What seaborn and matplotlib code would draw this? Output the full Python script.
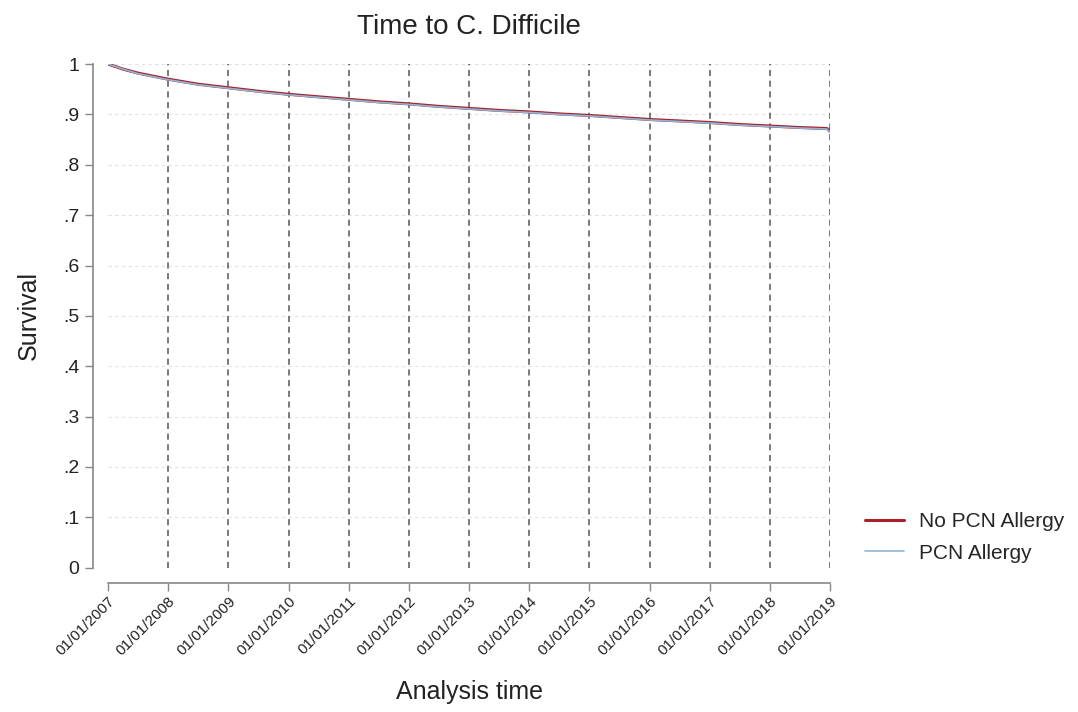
import matplotlib
matplotlib.use('Agg')
import matplotlib.pyplot as plt
import pandas as pd
import numpy as np
import seaborn as sns

sns.set_style('white')
plt.rcParams['font.family'] = ['Liberation Sans', 'DejaVu Sans']

# ---------------------------------------------------------------------------------------
# Data (time in years since 01/01/2007)

years = [2007, 2007.25, 2007.5, 2007.75, 2008, 2008.5, 2009, 2009.5, 2010, 2010.5,
         2011, 2011.5, 2012, 2012.5, 2013, 2013.5, 2014, 2014.5, 2015, 2015.5,
         2016, 2016.5, 2017, 2017.5, 2018, 2018.5, 2018.95, 2019]
surv_no_allergy = [1.0, 0.990, 0.982, 0.976, 0.970, 0.960, 0.953, 0.946, 0.940, 0.935,
                   0.930, 0.925, 0.921, 0.916, 0.912, 0.908, 0.905, 0.901, 0.898, 0.894,
                   0.890, 0.887, 0.884, 0.880, 0.877, 0.874, 0.872, 0.866]
surv_allergy = [1.0, 0.990, 0.981, 0.975, 0.969, 0.959, 0.952, 0.945, 0.939, 0.934,
                0.929, 0.924, 0.920, 0.915, 0.911, 0.907, 0.904, 0.900, 0.897, 0.893,
                0.889, 0.886, 0.883, 0.879, 0.876, 0.873, 0.871, 0.864]

tick_years = list(range(2007, 2020))
tick_labels = ['01/01/%d' % y for y in tick_years]
ytick_vals = [0, .1, .2, .3, .4, .5, .6, .7, .8, .9, 1]
ytick_labels = ['0', '.1', '.2', '.3', '.4', '.5', '.6', '.7', '.8', '.9', '1']

df = pd.concat([
    pd.DataFrame({'time': years, 'survival': surv_no_allergy, 'group': 'No PCN Allergy'}),
    pd.DataFrame({'time': years, 'survival': surv_allergy, 'group': 'PCN Allergy'}),
])

# ---------------------------------------------------------------------------------------
# Plot

fig = plt.figure(figsize=(10.78, 7.12), dpi=100)
ax = fig.add_axes([0.1002, 0.2027, 0.6698, 0.7073])

# spines first: moving a spine resets the ticks
for side in ['top', 'right']:
    ax.spines[side].set_visible(False)
ax.spines['left'].set_position(('outward', 11))
ax.spines['bottom'].set_position(('outward', 11))
for side in ['left', 'bottom']:
    ax.spines[side].set_color('#888888')
    ax.spines[side].set_linewidth(1.2)

# faint horizontal grid
for yv in ytick_vals:
    ax.axhline(yv, color='#e2e2e2', lw=0.8, ls=(0, (3, 3)), zorder=0)

# year markers
for yr in tick_years[1:]:
    ax.axvline(yr, color='#555555', lw=1.1, ls=(0, (4, 3)), zorder=1)

sns.lineplot(data=df, x='time', y='survival', hue='group',
             palette={'No PCN Allergy': '#a8222e', 'PCN Allergy': '#8fb8d8'},
             size='group', sizes={'No PCN Allergy': 2.2, 'PCN Allergy': 1.2},
             ax=ax, zorder=3)

ax.set_xlim(2007, 2019)
ax.set_ylim(0, 1)
ax.set_xticks(tick_years)
ax.set_xticklabels(tick_labels, rotation=45, ha='right', rotation_mode='anchor',
                   fontsize=11, color='#222222')
ax.set_yticks(ytick_vals)
ax.set_yticklabels(ytick_labels, fontsize=14, color='#222222')
ax.tick_params(axis='both', direction='out', length=6, width=1, color='#888888',
               bottom=True, left=True)
ax.tick_params(axis='x', pad=2)

ax.set_title('Time to C. Difficile', fontsize=20, pad=22, color='#222222')
ax.set_xlabel('Analysis time', fontsize=18, labelpad=16, color='#222222')
ax.set_ylabel('Survival', fontsize=18, labelpad=16, color='#222222')

handles, labels = ax.get_legend_handles_labels()
ax.legend(handles, labels, loc='center left', bbox_to_anchor=(1.048, 0.06),
          frameon=False, fontsize=15, handlelength=1.9, handletextpad=0.7,
          labelspacing=0.6, borderaxespad=0, borderpad=0)

fig.savefig('out.png', dpi=100, facecolor='white')
